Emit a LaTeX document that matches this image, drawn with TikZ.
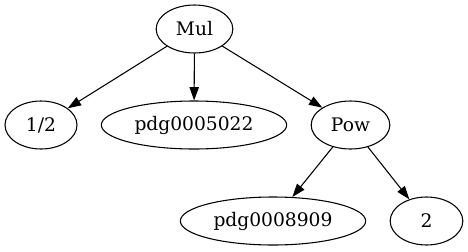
\documentclass[tikz,border=0pt]{standalone}
\usepackage{fontspec}
\setmainfont{DejaVu Serif}
\usetikzlibrary{arrows.meta,shapes.geometric}

\begin{document}
\begin{tikzpicture}[
    x=0.75pt, y=-0.75pt,
    term/.style={draw, ellipse, line width=0.8pt, inner sep=0pt,
        minimum height=36pt, font=\fontsize{14}{16}\selectfont},
    edge/.style={line width=0.8pt, -{Triangle[length=10pt,width=7pt]}},
]
\useasboundingbox (0,0) rectangle (468,251);

% Root
\node[term, minimum width=57.5pt] (mul) at (194.5,29) {Mul};

% First level
\node[term, minimum width=54pt]  (half) at (41,125)    {1/2};
\node[term, minimum width=139pt] (pdga) at (194,125)   {pdg0005022};
\node[term, minimum width=59pt]  (pow)  at (350.5,125) {Pow};

% Second level
\node[term, minimum width=139pt] (pdgb) at (273,221)   {pdg0008909};
\node[term, minimum width=54.5pt] (two) at (426.5,221) {2};

% Edges
\draw[edge] (mul) -- (half);
\draw[edge] (mul) -- (pdga);
\draw[edge] (mul) -- (pow);
\draw[edge] (pow) -- (pdgb);
\draw[edge] (pow) -- (two);

\end{tikzpicture}
\end{document}
